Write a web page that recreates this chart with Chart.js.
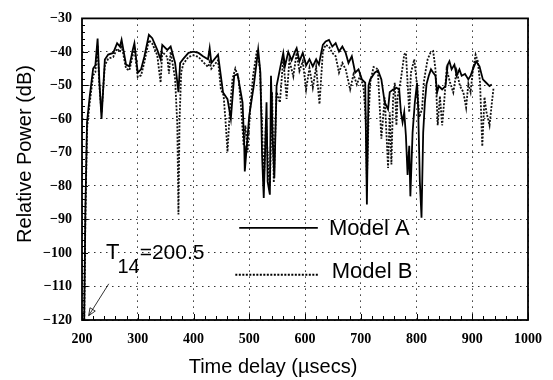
<!DOCTYPE html>
<html>
<head>
<meta charset="utf-8">
<script src="https://cdn.jsdelivr.net/npm/chart.js@4"></script>
<style>
  body { margin: 0; background: #fff; }
  canvas { display: block; }
</style>
</head>
<body>
<canvas id="delayChart" width="553" height="380"></canvas>
<script>
// Power delay profile, two propagation models
const timeA = [204, 206, 209, 214, 220, 224, 228, 231, 235, 241, 247, 256, 263, 268, 271, 279, 285, 291, 294, 300,
  306, 312, 320, 326, 335, 341, 344, 353, 359, 367, 373, 376, 382, 391, 400, 409, 417, 426, 429, 432,
  444, 453, 461, 467, 473, 479, 488, 491, 492, 500, 508, 516, 520, 523, 526, 531, 533, 537, 539, 542,
  545, 549, 556, 561, 564, 570, 576, 582, 585, 590, 596, 602, 608, 614, 620, 625, 629, 632, 637, 643,
  649, 655, 661, 667, 673, 678, 684, 690, 696, 702, 708, 711, 714, 717, 725, 731, 737, 743, 749, 752,
  758, 764, 769, 772, 775, 778, 781, 784, 787, 789, 793, 797, 801, 803, 806, 809, 812, 815, 818, 822,
  826, 830, 834, 837, 840, 846, 852, 856, 859, 863, 868, 872, 877, 881, 887, 893, 897, 901, 907, 913,
  919, 925, 931, 935];
const powerA = [-120, -88, -61, -53, -45, -44, -36, -48, -60, -42.3, -40.8, -40.3, -37.4, -38.4, -36.4, -43.8, -44.3, -39.4, -37.4, -46.2,
  -45.2, -41.3, -34.9, -35.9, -39.4, -42.2, -37.9, -39.4, -38.4, -43.3, -52, -43.3, -42, -40.3, -39.9, -40.3, -41.3, -42.2, -38.9, -43.3,
  -40.8, -52.1, -54.1, -60, -47.1, -46.6, -55.1, -67.9, -75.7, -59, -50.2, -39.3, -46.2, -70.8, -83.6, -55, -78.7, -82.6, -47.1, -65.9,
  -77.7, -50.2, -44.3, -40.3, -44.3, -40, -42.5, -39.9, -38.9, -42.8, -40.3, -44, -42.2, -44.3, -42.2, -43.8, -40.3, -37.9, -36.9, -36.4,
  -38.4, -37.4, -39.9, -38.4, -40.3, -43.3, -41.3, -46.2, -45.2, -48.2, -49.2, -85.5, -50, -48.2, -46.2, -45.5, -48.2, -55.1, -57.1, -52,
  -51.2, -50.7, -51.2, -58, -61, -58, -65, -76.7, -68, -83.1, -64, -55.1, -49.2, -57, -78.7, -89.5, -64, -55.1, -49.6, -47.1,
  -45.2, -46.2, -47.1, -52.1, -50.2, -51.2, -50.2, -43.8, -42.8, -45.2, -43.8, -47.1, -45.2, -47.1, -46.6, -48.2, -47.1, -45.2, -42.8, -44.3,
  -48.2, -49.2, -50.2, -49.7];

const timeB = [204, 206, 209, 214, 220, 224, 228, 231, 235, 241, 247, 256, 263, 268, 271, 279, 285, 291, 294, 300,
  306, 312, 320, 326, 335, 341, 344, 353, 356, 359, 364, 367, 371, 373, 375, 378, 382, 391, 400, 409,
  417, 426, 429, 432, 444, 449, 454, 458, 461, 465, 470, 475, 481, 486, 490, 493, 497, 502, 507, 514,
  519, 523, 526, 530, 534, 537, 541, 544, 549, 555, 561, 567, 572, 579, 585, 590, 596, 602, 608, 614,
  620, 626, 632, 637, 643, 649, 655, 661, 667, 673, 681, 687, 693, 699, 705, 709, 711, 714, 717, 723,
  729, 731, 737, 743, 749, 752, 755, 758, 761, 764, 766, 772, 778, 781, 784, 787, 790, 796, 801, 805,
  810, 813, 816, 820, 825, 830, 834, 838, 842, 846, 850, 854, 860, 866, 872, 878, 884, 889, 893, 897,
  901, 906, 910, 914, 918, 922, 925, 931, 935, 938];
const powerB = [-120, -90, -63, -55, -47, -46, -38, -50, -58, -44, -42, -41.5, -39, -40, -38, -45, -45.5, -41, -39, -47.5,
  -47, -43, -36.5, -37.5, -41, -49.2, -40, -41.5, -46.5, -40, -45, -48, -62, -88.5, -60, -46, -43.5, -41.5, -41, -41.5,
  -43, -44.5, -43, -45, -42.5, -51, -53, -62, -69.8, -58, -48, -45, -48, -58, -68, -62, -70, -56, -47, -39.3,
  -45, -62, -80, -60, -75, -80, -52, -79, -52, -55.1, -41.8, -54, -42.5, -47.3, -40.3, -45.7, -42.8, -51.2, -44.8, -50.7,
  -44.5, -55.6, -39.9, -37.9, -38.4, -40.3, -41.3, -46.2, -43.3, -45.2, -51.2, -46.7, -49.7, -47, -50.7, -60, -78, -60, -49, -44.5,
  -45, -46.5, -65.9, -53.6, -74.6, -58, -73.6, -54, -49.2, -61.9, -53.6, -48.2, -40.8, -40.3, -49.2, -58, -46.2, -42.2, -50, -59.5,
  -57, -49.2, -46, -42.2, -40.3, -39.8, -45.2, -61.9, -53.2, -61.9, -54.1, -45.2, -49, -52.1, -45.7, -50.2, -52, -56.6, -49.5, -52,
  -45.7, -40.8, -42.8, -49.2, -68.2, -53.5, -57.6, -61.9, -55.5, -51];

const seriesNames = ['Model A', 'Model B'];
const xTitle = 'Time delay (\u00b5secs)';
const yTitle = 'Relative Power (dB)';
const delayLabel = { t: 243, v: -101.8, main: 'T', sub: '14', rest: '=200.5' };
const arrowFrom = { t: 248, v: -109.2 };
const arrowTo = { t: 212, v: -118.7 };

const toPoints = (xs, ys) => xs.map((t, i) => ({ x: t, y: ys[i] }));

const serif = '"Liberation Serif", "Times New Roman", Times, serif';
const sans = '"Liberation Sans", Arial, sans-serif';

// frame, minor ticks, titles, legend and the T14 note
const decor = {
  id: 'decor',
  afterDraw(chart) {
    const { ctx, chartArea: a, scales: { x, y } } = chart;
    ctx.save();
    ctx.strokeStyle = '#000';
    ctx.fillStyle = '#000';

    // minor ticks, inside
    ctx.lineWidth = 1;
    ctx.beginPath();
    for (let t = 200; t <= 1000; t += 20) {
      const px = Math.round(x.getPixelForValue(t)) + 0.5;
      const len = t % 100 === 0 ? 6 : 4;
      ctx.moveTo(px, a.bottom);
      ctx.lineTo(px, a.bottom - len);
    }
    for (let v = -120; v <= -30; v += 2) {
      const py = Math.round(y.getPixelForValue(v)) + 0.5;
      const len = v % 10 === 0 ? 6 : 3;
      ctx.moveTo(a.left, py);
      ctx.lineTo(a.left + len, py);
    }
    ctx.stroke();

    // frame
    ctx.lineWidth = 1.8;
    ctx.strokeRect(a.left, a.top, a.right - a.left, a.bottom - a.top);

    // axis titles
    ctx.font = '20px ' + sans;
    ctx.textAlign = 'center';
    ctx.textBaseline = 'middle';
    ctx.fillText(xTitle, 273, 367);
    ctx.save();
    ctx.translate(25, 154);
    ctx.rotate(-Math.PI / 2);
    ctx.fillText(yTitle, 0, 0);
    ctx.restore();

    // legend
    const legendRows = [
      { t0: 482, t1: 623, v: -92.5, tx: 643, tv: -92.9 },
      { t0: 475, t1: 625, v: -106.5, tx: 648, tv: -105.8 }
    ];
    chart.data.datasets.forEach((ds, i) => {
      const r = legendRows[i];
      const py = y.getPixelForValue(r.v);
      ctx.lineWidth = ds.borderWidth;
      ctx.setLineDash(ds.borderDash || []);
      ctx.beginPath();
      ctx.moveTo(x.getPixelForValue(r.t0), py);
      ctx.lineTo(x.getPixelForValue(r.t1), py);
      ctx.stroke();
      ctx.setLineDash([]);
      ctx.font = '22px ' + sans;
      ctx.textAlign = 'left';
      ctx.fillText(ds.label, x.getPixelForValue(r.tx), y.getPixelForValue(r.tv));
    });

    // T14 = 200.5
    ctx.textBaseline = 'alphabetic';
    ctx.textAlign = 'left';
    const lx = x.getPixelForValue(delayLabel.t);
    const ly = y.getPixelForValue(delayLabel.v);
    ctx.font = '22px ' + sans;
    ctx.fillText(delayLabel.main, lx, ly);
    const wT = ctx.measureText(delayLabel.main).width;
    ctx.font = '20px ' + sans;
    ctx.fillText(delayLabel.sub, lx + wT - 2, ly + 14);
    const wSub = ctx.measureText(delayLabel.sub).width;
    ctx.font = '21px ' + sans;
    ctx.fillText(delayLabel.rest, lx + wT - 2 + wSub, ly);

    // arrow to the first arrival
    const x0 = x.getPixelForValue(arrowFrom.t), y0 = y.getPixelForValue(arrowFrom.v);
    const x1 = x.getPixelForValue(arrowTo.t), y1 = y.getPixelForValue(arrowTo.v);
    ctx.lineWidth = 0.8;
    ctx.beginPath();
    ctx.moveTo(x0, y0);
    ctx.lineTo(x1, y1);
    ctx.stroke();
    const ang = Math.atan2(y1 - y0, x1 - x0);
    const head = 8, spread = 0.4;
    ctx.beginPath();
    ctx.moveTo(x1, y1);
    ctx.lineTo(x1 - head * Math.cos(ang - spread), y1 - head * Math.sin(ang - spread));
    ctx.lineTo(x1 - head * Math.cos(ang + spread), y1 - head * Math.sin(ang + spread));
    ctx.closePath();
    ctx.stroke();

    ctx.restore();
  }
};

function drawChart() {
  new Chart(document.getElementById('delayChart').getContext('2d'), {
    type: 'line',
    data: {
      datasets: [
        {
          label: seriesNames[0],
          data: toPoints(timeA, powerA),
          borderColor: '#000',
          borderWidth: 1.8,
          pointRadius: 0,
          tension: 0,
          order: 1
        },
        {
          label: seriesNames[1],
          data: toPoints(timeB, powerB),
          borderColor: '#111',
          borderWidth: 1.8,
          borderDash: [2, 1.5],
          pointRadius: 0,
          tension: 0,
          order: 2
        }
      ]
    },
    options: {
      responsive: false,
      animation: false,
      devicePixelRatio: 1,
      layout: { padding: { left: 0, right: 17, top: 15, bottom: 0 } },
      plugins: {
        legend: { display: false },
        tooltip: { enabled: false }
      },
      scales: {
        x: {
          type: 'linear',
          min: 200,
          max: 1000,
          afterFit: s => { s.height = 60; },
          border: { display: false, dash: [1.5, 4.5] },
          grid: { color: '#333', lineWidth: 1, drawTicks: false },
          ticks: {
            stepSize: 100,
            padding: 11,
            color: '#000',
            maxRotation: 0,
            font: { family: serif, size: 14, weight: 'bold' },
            callback: v => String(v)
          }
        },
        y: {
          min: -120,
          max: -30,
          afterFit: s => { s.width = 82; },
          border: { display: false, dash: [1.5, 4.5] },
          grid: { color: '#333', lineWidth: 1, drawTicks: false },
          ticks: {
            stepSize: 10,
            padding: 10,
            color: '#000',
            font: { family: serif, size: 14, weight: 'bold' },
            callback: v => String(v).replace('-', '\u2212')
          }
        }
      }
    },
    plugins: [decor]
  });
}

// make sure the serif face is ready before the canvas text is drawn
Promise.all([
  document.fonts.load('bold 14px "Liberation Serif"'),
  document.fonts.load('20px "Liberation Sans"')
]).then(drawChart, drawChart);
</script>
</body>
</html>
